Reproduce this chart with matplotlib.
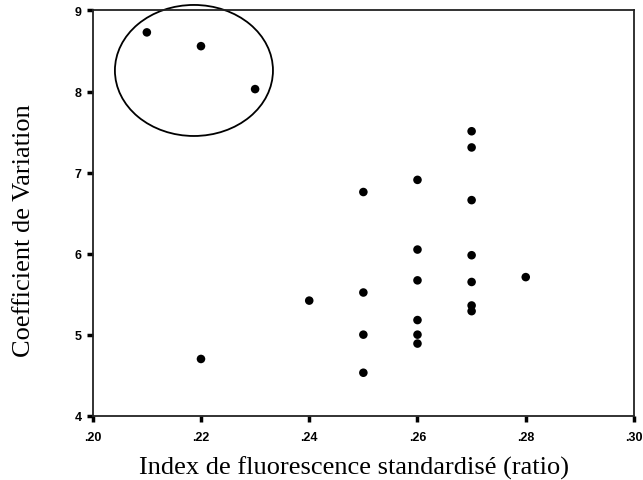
import matplotlib.pyplot as plt
from matplotlib.patches import Ellipse

# fluorescence index (ratio) vs coefficient of variation
index = [.21, .22, .23,
         .22, .24,
         .25, .25, .25, .25,
         .26, .26, .26, .26, .26, .26,
         .27, .27, .27, .27, .27, .27, .27,
         .28]
cv = [8.73, 8.56, 8.03,
      4.70, 5.42,
      6.76, 5.52, 5.00, 4.53,
      6.91, 6.05, 5.67, 5.18, 5.00, 4.89,
      7.51, 7.31, 6.66, 5.98, 5.65, 5.36, 5.29,
      5.71]

x_ticks = [.20, .22, .24, .26, .28, .30]
x_labels = ['.20', '.22', '.24', '.26', '.28', '.30']
y_ticks = [4, 5, 6, 7, 8, 9]

# outlier group that gets circled
group_center = (.2187, 8.26)
group_size = (.0292, 1.617)

fig = plt.figure(figsize=(6.43, 4.81), dpi=100)
ax = fig.add_axes([0.1442, 0.1337, 0.8418, 0.8424])

ax.scatter(index, cv, s=38, c='black', edgecolors='none', zorder=3)
ax.add_patch(Ellipse(group_center, group_size[0], group_size[1],
                     fill=False, ec='black', lw=1.3, clip_on=False))

ax.set_xlim(.20, .30)
ax.set_ylim(4, 9)
ax.set_xticks(x_ticks)
ax.set_xticklabels(x_labels)
ax.set_yticks(y_ticks)

for side in ['top', 'bottom', 'left', 'right']:
    ax.spines[side].set_linewidth(1.3)
    ax.spines[side].set_color('#222222')

ax.tick_params(direction='out', length=4, width=2.5, labelsize=9, color='black')
ax.tick_params(axis='x', pad=7)
ax.tick_params(axis='y', pad=4)
for lab in ax.get_xticklabels() + ax.get_yticklabels():
    lab.set_fontfamily('Liberation Sans')
    lab.set_fontweight('bold')

ax.set_xlabel('Index de fluorescence standardisé (ratio)',
              family='Liberation Serif', fontsize=19, va='baseline')
ax.xaxis.set_label_coords(0.483, -0.143)
ax.set_ylabel('Coefficient de Variation',
              family='Liberation Serif', fontsize=19, va='center')
ax.yaxis.set_label_coords(-0.127, 0.46)

fig.savefig('out.png', dpi=100)
